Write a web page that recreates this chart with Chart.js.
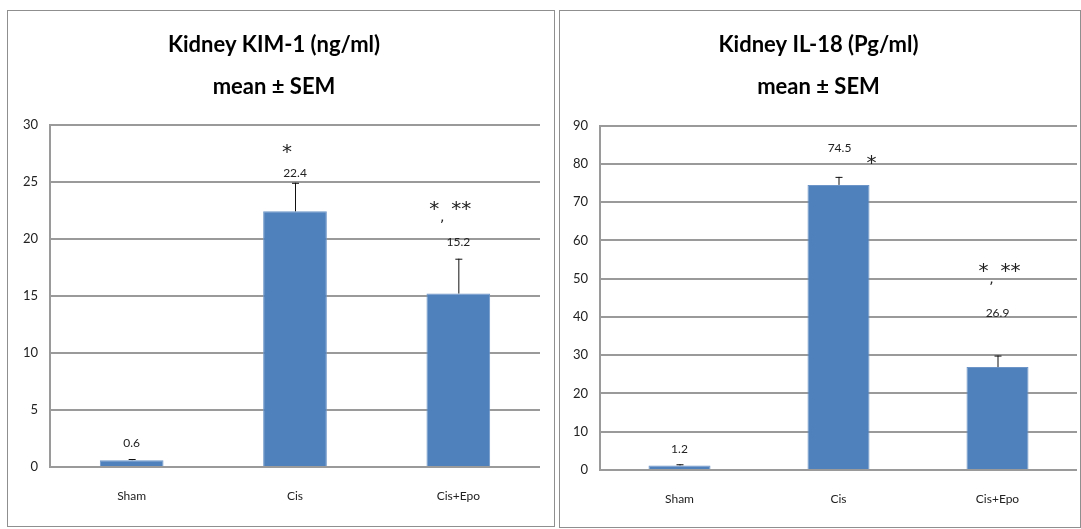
<!DOCTYPE html>
<html>
<head>
<meta charset="utf-8">
<script src="https://cdn.jsdelivr.net/npm/chart.js@4.4.1/dist/chart.umd.min.js"></script>
<style>
body { margin: 0; background: #fff; width: 1081px; height: 529px; position: relative; overflow: hidden; }
.panel { position: absolute; border: 1px solid #8f8f8f; box-sizing: border-box; background: #fff; }
#p1 { left: 7px; top: 10px; width: 548px; height: 517px; }
#p2 { left: 559px; top: 10px; width: 522px; height: 518px; }
canvas { display: block; }
</style>
</head>
<body>
<div class="panel" id="p1"><canvas id="kim" width="546" height="515"></canvas></div>
<div class="panel" id="p2"><canvas id="il18" width="520" height="516"></canvas></div>
<script>
const categories = ['Sham', 'Cis', 'Cis+Epo'];

// Kidney KIM-1 (ng/ml)
const kimMeans = [0.6, 22.4, 15.2];
const kimSem = [0.1, 2.5, 3.05];
const kimMarks = ['', '*', '*, **'];
const kimMax = 30, kimStep = 5;

// Kidney IL-18 (Pg/ml)
const il18Means = [1.2, 74.5, 26.9];
const il18Sem = [0.3, 2.1, 3.0];
const il18Marks = ['', '*', '*, **'];
const il18Max = 90, il18Step = 10;

const barBlue = '#4f81bd';
const gridGray = '#9a9a9a';
const fontFam = 'Lato, "Open Sans", sans-serif';

// error bars, value labels and significance stars
const marksPlugin = {
    id: 'marks',
    afterDatasetsDraw(chart, args, o) {
        const ctx = chart.ctx;
        const y = chart.scales.y;
        const meta = chart.getDatasetMeta(0);
        ctx.save();
        meta.data.forEach((bar, i) => {
            const top = y.getPixelForValue(o.means[i] + o.sem[i]);
            ctx.strokeStyle = '#111';
            ctx.lineWidth = 1;
            ctx.beginPath();
            ctx.moveTo(bar.x + 0.5, bar.y);
            ctx.lineTo(bar.x + 0.5, top);
            ctx.moveTo(bar.x - 3, top + 0.5);
            ctx.lineTo(bar.x + 4, top + 0.5);
            ctx.stroke();

            ctx.fillStyle = '#222';
            ctx.textAlign = 'center';
            ctx.textBaseline = 'middle';
            ctx.font = '12px ' + fontFam;
            ctx.fillText(o.means[i].toFixed(1), bar.x + o.valueShift[i][0], top - o.valueShift[i][1]);

            const m = o.marks[i];
            if (!m) return;
            const sx = bar.x + o.markShift[i][0];
            const sy = top - o.markShift[i][1];
            ctx.font = '20px "DejaVu Sans"';
            if (m === '*') {
                ctx.fillText('*', sx, sy + 5);
            } else {
                ctx.fillText('*', sx - 13, sy + 5);
                ctx.fillText('**', sx + 14, sy + 5);
                ctx.font = '14px "DejaVu Sans"';
                ctx.fillText(',', sx - 5, sy + 13);
            }
        });
        ctx.restore();
    }
};

function makeChart(id, title, means, sem, marks, yMax, yStep, box, shifts) {
    return new Chart(document.getElementById(id), {
        type: 'bar',
        data: {
            labels: categories,
            datasets: [{
                data: means,
                backgroundColor: barBlue,
                borderColor: '#6d95c8',
                borderWidth: 1,
                categoryPercentage: 1,
                barPercentage: 0.39
            }]
        },
        options: {
            responsive: false,
            animation: false,
            devicePixelRatio: 1,
            layout: { padding: { left: 0, right: box.right, top: 0, bottom: 0 } },
            plugins: {
                legend: { display: false },
                tooltip: { enabled: false },
                title: {
                    display: true,
                    text: [title, 'mean \u00b1 SEM'],
                    color: '#000',
                    font: { family: fontFam, size: 22, weight: 'bold', lineHeight: 1.9 },
                    padding: { top: box.titleTop, bottom: box.titleBottom }
                },
                marks: {
                    means: means, sem: sem, marks: marks,
                    valueShift: shifts.value, markShift: shifts.mark
                }
            },
            scales: {
                x: {
                    grid: { display: false },
                    border: { display: false },
                    ticks: { color: '#222', font: { family: fontFam, size: 12 }, padding: 14 },
                    afterFit: (s) => { s.height = box.xh; }
                },
                y: {
                    min: 0,
                    max: yMax,
                    ticks: { stepSize: yStep, color: '#222', font: { family: fontFam, size: 13 }, padding: 12 },
                    grid: { color: gridGray, lineWidth: 2, drawTicks: false },
                    border: { display: true, color: gridGray, width: 2 },
                    afterFit: (s) => { s.width = box.yw; }
                }
            }
        },
        plugins: [marksPlugin]
    });
}

makeChart('kim', 'Kidney KIM-1 (ng/ml)', kimMeans, kimSem, kimMarks, kimMax, kimStep,
    { right: 14, yw: 42, xh: 59, titleTop: 13, titleBottom: 17 },
    { value: [[0, 16], [0, 10], [0, 17]], mark: [[0, 0], [-8, 35], [-11, 54]] });

makeChart('il18', 'Kidney IL-18 (Pg/ml)', il18Means, il18Sem, il18Marks, il18Max, il18Step,
    { right: 3, yw: 40, xh: 57, titleTop: 13, titleBottom: 18 },
    { value: [[0, 15], [1, 29], [0, 42]], mark: [[0, 0], [33, 18], [-1, 89]] });
</script>
</body>
</html>
